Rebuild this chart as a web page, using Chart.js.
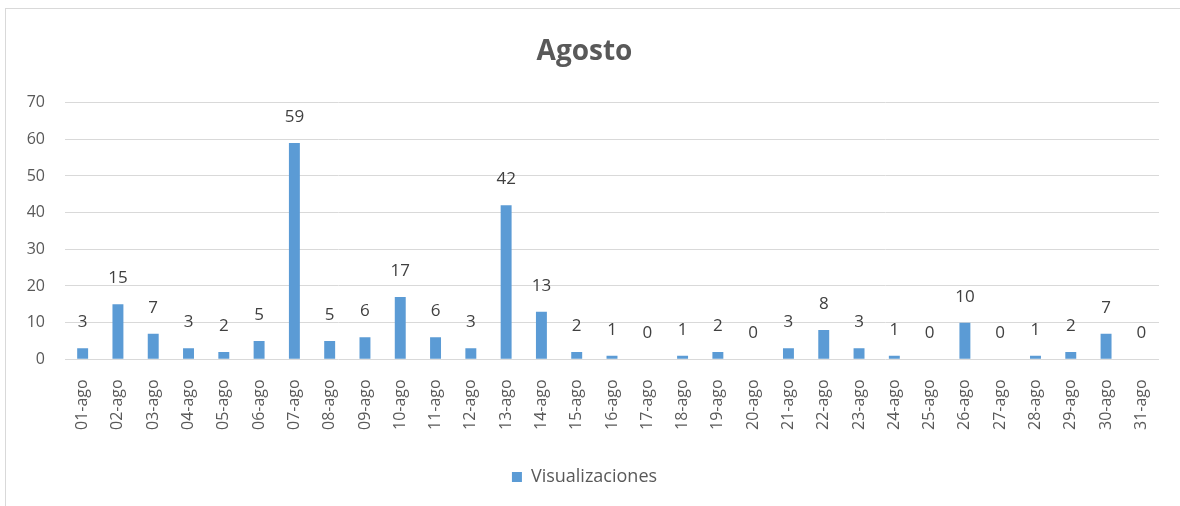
<!DOCTYPE html>
<html>
<head>
<meta charset="utf-8">
<script src="https://cdn.jsdelivr.net/npm/chart.js@4"></script>
<style>
  html, body { margin: 0; padding: 0; background: #fff; }
  #wrap { position: relative; width: 1180px; height: 506px; overflow: hidden; }
  #frame { position: absolute; left: 5px; top: 8px; width: 1200px; height: 520px; border: 1px solid #d9d9d9; box-sizing: border-box; }
  canvas { position: absolute; left: 0; top: 0; }
</style>
</head>
<body>
<div id="wrap">
  <div id="frame"></div>
  <canvas id="chart" width="1180" height="506"></canvas>
</div>
<script>
const days = ["01-ago", "02-ago", "03-ago", "04-ago", "05-ago", "06-ago", "07-ago", "08-ago",
  "09-ago", "10-ago", "11-ago", "12-ago", "13-ago", "14-ago", "15-ago", "16-ago", "17-ago",
  "18-ago", "19-ago", "20-ago", "21-ago", "22-ago", "23-ago", "24-ago", "25-ago", "26-ago",
  "27-ago", "28-ago", "29-ago", "30-ago", "31-ago"];
const visitas = [3, 15, 7, 3, 2, 5, 59, 5, 6, 17, 6, 3, 42, 13, 2, 1, 0, 1, 2, 0, 3, 8, 3, 1, 0, 10, 0, 1, 2, 7, 0];
const yTicks = [0, 10, 20, 30, 40, 50, 60, 70];

const fontFam = "'Open Sans', sans-serif";

// value labels over each bar
const barLabels = {
  id: "barLabels",
  afterDatasetsDraw(chart) {
    const ctx = chart.ctx;
    const meta = chart.getDatasetMeta(0);
    ctx.save();
    ctx.font = "17px " + fontFam;
    ctx.fillStyle = "#404040";
    ctx.textAlign = "center";
    ctx.textBaseline = "middle";
    meta.data.forEach((bar, i) => {
      ctx.fillText(String(visitas[i]), bar.x, bar.y - 26);
    });
    ctx.restore();
  }
};

new Chart(document.getElementById("chart"), {
  type: "bar",
  data: {
    labels: days,
    datasets: [{
      label: "Visualizaciones",
      data: visitas,
      backgroundColor: "#5B9BD5",
      barPercentage: 0.62,
      categoryPercentage: 0.5
    }]
  },
  options: {
    responsive: false,
    animation: false,
    layout: { padding: { left: 10, right: 21, top: 0, bottom: 10 } },
    plugins: {
      title: {
        display: true,
        text: "Agosto",
        color: "#595959",
        font: { family: fontFam, size: 28, weight: "bold" },
        padding: { top: 35, bottom: 34 }
      },
      legend: {
        position: "bottom",
        labels: {
          color: "#595959",
          font: { family: fontFam, size: 18 },
          boxWidth: 10,
          boxHeight: 10,
          padding: 10
        }
      },
      tooltip: { enabled: false }
    },
    scales: {
      x: {
        grid: { display: false },
        border: { display: false },
        afterFit: (scale) => { scale.height += 16; },
        ticks: {
          color: "#595959",
          font: { family: fontFam, size: 16 },
          minRotation: 90,
          maxRotation: 90,
          autoSkip: false,
          padding: 12
        }
      },
      y: {
        min: 0,
        max: 70,
        afterBuildTicks: (scale) => { scale.ticks = yTicks.map(v => ({ value: v })); },
        afterFit: (scale) => { scale.width = 55; },
        grid: { color: "#d9d9d9", drawTicks: false },
        border: { display: false },
        ticks: {
          color: "#595959",
          font: { family: fontFam, size: 16 },
          padding: 20
        }
      }
    }
  },
  plugins: [barLabels]
});
</script>
</body>
</html>
